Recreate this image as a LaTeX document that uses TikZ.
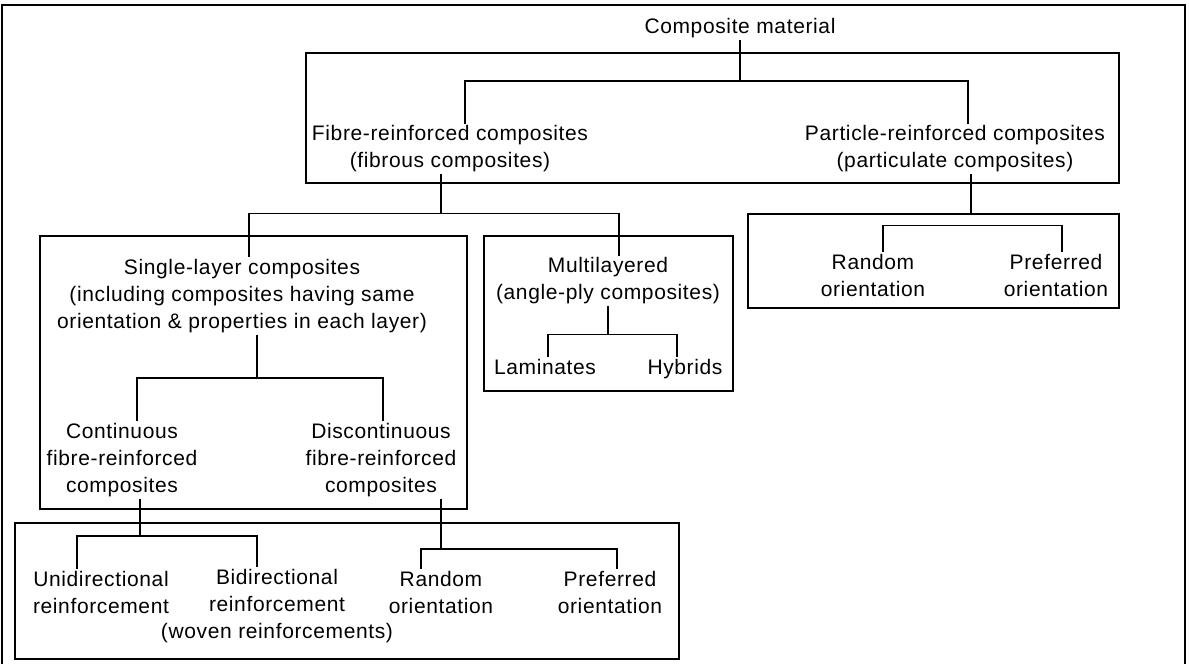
\documentclass[tikz,border=0pt]{standalone}
\usepackage{fontspec}
\setmainfont{Liberation Sans}[LetterSpace=3]
\usepackage{tikz}
\tikzset{txt/.style={align=center, inner sep=2pt, font=\fontsize{21}{27}\selectfont},
         frame/.style={draw, line width=1.7pt},
         link/.style={line width=1.7pt}}

\begin{document}
\begin{tikzpicture}[x=1pt, y=-1pt]
 \useasboundingbox (0,0) rectangle (1189,664);
 \draw[line width=2.6pt] (2,5) rectangle (1185,672);

 \node[frame, minimum width=813pt, minimum height=130pt] (tbox) at (712.5,118)   {};
 \node[frame, minimum width=371pt, minimum height=94pt]  (pbox) at (933.5,261)   {};
 \node[frame, minimum width=427pt, minimum height=273pt] (sbox) at (253.5,372.5) {};
 \node[frame, minimum width=249pt, minimum height=155pt] (mbox) at (608.5,313.5) {};
 \node[frame, minimum width=664pt, minimum height=136pt] (bbox) at (347,591)     {};

 \node[txt] (cm)    at (740, 28) {Composite material};
 \node[txt] (fib)   at (450,149) {Fibre-reinforced composites\\(fibrous composites)};
 \node[txt] (par)   at (955,149) {Particle-reinforced composites\\(particulate composites)};
 \node[txt] (sgl)   at (242,296) {Single-layer composites\\(including composites having same\\orientation \& properties in each layer)};
 \node[txt] (mlt)   at (608,281) {Multilayered\\(angle-ply composites)};
 \node[txt] (lam)   at (545,367) {Laminates};
 \node[txt] (hyb)   at (685,369) {Hybrids};
 \node[txt] (prnd)  at (873,275) {Random\\orientation};
 \node[txt] (ppref) at (1056,275) {Preferred\\orientation};
 \node[txt] (cnt)   at (122,460) {Continuous\\fibre-reinforced\\composites};
 \node[txt] (dsc)   at (381,460) {Discontinuous\\fibre-reinforced\\composites};
 \node[txt] (uni)   at (101,592) {Unidirectional\\reinforcement};
 \node[txt] (bid)   at (277,606) {Bidirectional\\reinforcement\\(woven reinforcements)};
 \node[txt] (brnd)  at (441,592) {Random\\orientation};
 \node[txt] (bpref) at (610,592) {Preferred\\orientation};

 \draw[link] (cm.south) -- ++(0,41) -| ([xshift=15pt]fib.north);
 \draw[link] (cm.south) ++(0,41) -| ([xshift=13pt]par.north);

 \draw[link] ([xshift=-9pt]fib.south) -- ++(0,39) -| ([xshift=7pt]sgl.north);
 \draw[link] ([xshift=-9pt]fib.south) ++(0,39) -| ([xshift=11pt]mlt.north);

 \draw[link] ([xshift=16pt]par.south) -- ++(0,40);
 \draw[link] ([xshift=10pt]prnd.north) -- ++(0,-26) -| ([xshift=6pt]ppref.north);

 \draw[link] ([xshift=15pt]sgl.south) -- ++(0,43) -| ([xshift=15pt]cnt.north);
 \draw[link] ([xshift=15pt]sgl.south) ++(0,43) -| ([xshift=2pt]dsc.north);

 \draw[link] (mlt.south) -- ++(0,28) -| ([xshift=3pt]lam.north);
 \draw[link] (mlt.south) ++(0,28) -| ([xshift=-8pt]hyb.north);

 \draw[link] ([xshift=18pt]cnt.south) -- ++(0,37) -| ([xshift=-24pt]uni.north);
 \draw[link] ([xshift=18pt]cnt.south) ++(0,37) -| ([xshift=-20pt]bid.north);

 \draw[link] ([xshift=60pt]dsc.south) -- ++(0,50) -| ([xshift=-20pt]brnd.north);
 \draw[link] ([xshift=60pt]dsc.south) ++(0,50) -| ([xshift=7pt]bpref.north);
\end{tikzpicture}
\end{document}
